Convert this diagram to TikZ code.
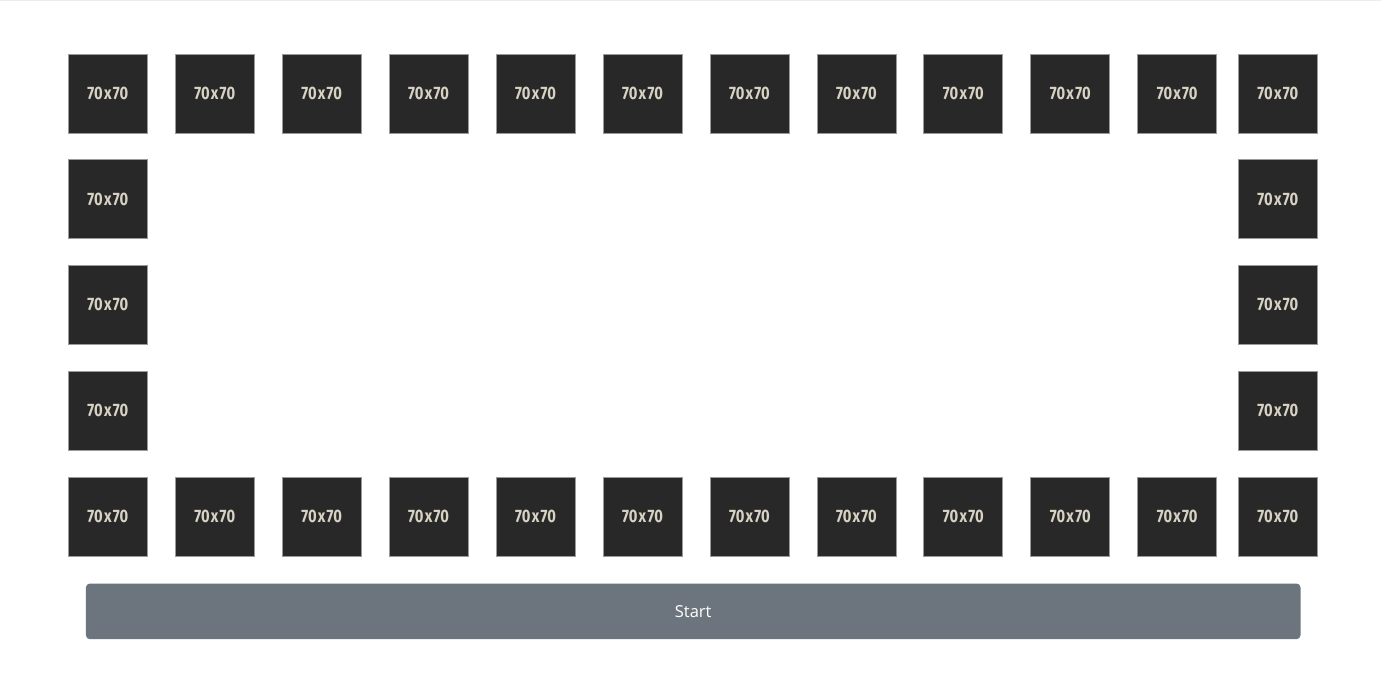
\documentclass[tikz,border=0pt]{standalone}
\usepackage{fontspec}
\setmainfont{Open Sans}
\newfontfamily\tilefont{Fira Sans}
\definecolor{tilebg}{HTML}{282828}
\definecolor{tileedge}{HTML}{9A9A9A}
\definecolor{tiletext}{HTML}{D8D2C4}
\definecolor{btnbg}{HTML}{6C757D}
\definecolor{topline}{HTML}{EDEDED}
\tikzset{
  tile/.style={draw=tileedge, line width=0.7pt, fill=tilebg, minimum width=79pt, minimum height=79pt, inner sep=0pt, outer sep=0pt, anchor=north west,
    text=tiletext, font=\tilefont\bfseries\fontsize{18}{18}\selectfont},
  startbtn/.style={fill=btnbg, rounded corners=4pt, minimum width=1214.6pt, minimum height=55.7pt, inner sep=0pt, anchor=north west,
    text=white, font=\fontsize{16.5}{17}\selectfont}
}
\newcommand{\tiletxt}{\raisebox{1pt}{\scalebox{0.82}[1]{70\kern1.5pt x\kern1.5pt 70}}}
\begin{document}
\begin{tikzpicture}[x=1pt,y=-1pt]
\useasboundingbox (0,0) rectangle (1381,690);
\fill[white] (0,0) rectangle (1381,690);
\fill[topline] (0,0) rectangle (1381,1.5);
% top and bottom rows
\foreach \i in {0,...,10} {
  \node[tile] (t-\i) at ({68.3+106.94*\i},54) {\tiletxt};
  \node[tile] (b-\i) at ({68.3+106.94*\i},477.2) {\tiletxt};
}
\node[tile] (t-11) at (1238.3,54) {\tiletxt};
\node[tile] (b-11) at (1238.3,477.2) {\tiletxt};
% side columns
\foreach \j in {1,2,3} {
  \node[tile] (l-\j) at (68.3,{54+105.8*\j}) {\tiletxt};
  \node[tile] (r-\j) at (1238.3,{54+105.8*\j}) {\tiletxt};
}
\node[startbtn] (start) at (85.7,583.3) {\raisebox{-1.5pt}{Start}};
\end{tikzpicture}
\end{document}
